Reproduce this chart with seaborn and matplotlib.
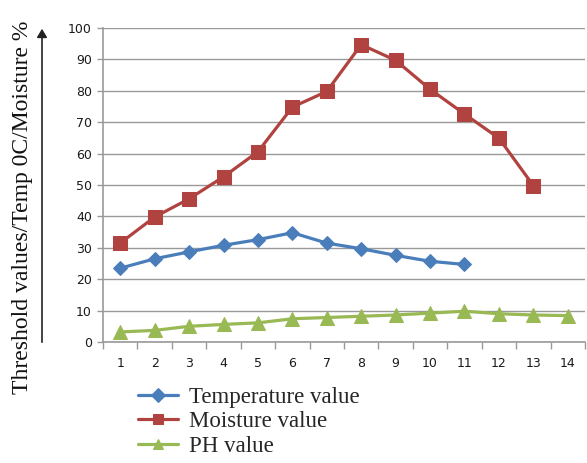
import matplotlib
matplotlib.use("Agg")
import matplotlib.pyplot as plt
import seaborn as sns
import pandas as pd
import numpy as np

days = list(range(1, 15))
temperature = [23.5, 26.5, 28.7, 30.8, 32.6, 34.8, 31.5, 29.7, 27.6, 25.7, 24.7]
moisture = [31.5, 39.8, 45.6, 52.6, 60.6, 74.8, 79.8, 94.7, 89.7, 80.5, 72.6, 64.9, 49.8]
ph = [3.2, 3.7, 5.0, 5.6, 6.1, 7.4, 7.8, 8.2, 8.6, 9.2, 9.8, 9.0, 8.6, 8.4]
series_names = ["Temperature value", "Moisture value", "PH value"]
colors = ["#4A7EBB", "#B0433F", "#98B954"]
y_label = "Threshold values/Temp 0C/Moisture %"

sns.set_theme(style="white")

frames = []
for name, vals in zip(series_names, [temperature, moisture, ph]):
    frames.append(pd.DataFrame({"day": days[:len(vals)], "value": vals, "series": name}))
df = pd.concat(frames, ignore_index=True)

fig = plt.figure(figsize=(5.87, 4.63), dpi=100)
ax = fig.add_axes([103/587, 1-342/463, (585-103)/587, (342-28)/463])

markers = {"Temperature value": "D", "Moisture value": "s", "PH value": "^"}
sizes = {"Temperature value": 7, "Moisture value": 9.5, "PH value": 9.5}
for name, col in zip(series_names, colors):
    sub = df[df.series == name]
    sns.lineplot(data=sub, x="day", y="value", ax=ax, color=col, linewidth=2.3,
                 marker=markers[name], markersize=sizes[name], markeredgecolor=col,
                 label=name, legend=False)

ax.set_xlim(0.5, 14.5)
ax.set_ylim(0, 100)
ax.set_yticks(np.arange(0, 101, 10))
ax.set_xticks(days)
ax.set_xticklabels([str(d) for d in days])
ax.set_xticks(np.arange(0.5, 14.6, 1), minor=True)
ax.tick_params(axis="x", which="major", length=0, pad=11, labelsize=9, labelcolor="#1a1a1a")
ax.tick_params(axis="x", which="minor", length=5, color="#999999", width=1, direction="out", bottom=True)
ax.tick_params(axis="y", which="major", length=4, color="#999999", width=1, direction="out", left=True,
               labelsize=9, labelcolor="#1a1a1a", pad=4)
ax.grid(axis="y", color="#999999", linewidth=1)
ax.set_axisbelow(True)
for s in ["top", "right"]:
    ax.spines[s].set_visible(False)
for s in ["left", "bottom"]:
    ax.spines[s].set_color("#999999")
    ax.spines[s].set_linewidth(1.2)
ax.set_xlabel("")
ax.set_ylabel("")

fig.text(23/587, 1-207/463, y_label, rotation=90, ha="center", va="center",
         fontsize=17, family="Liberation Serif", color="#111111")
fig.add_artist(matplotlib.patches.FancyArrowPatch(
    (42/587, 1-345/463), (42/587, 1-26/463), transform=fig.transFigure,
    arrowstyle="-|>,head_length=5,head_width=3", color="#222222", linewidth=1.2))

handles, labels = ax.get_legend_handles_labels()
leg = fig.legend(handles, labels, loc="upper left", bbox_to_anchor=(129/587, 1-378/463),
                 frameon=False, prop={"family": "Liberation Serif", "size": 16.5},
                 handlelength=1.75, labelspacing=0.14, handletextpad=0.45, borderaxespad=0)
for h in leg.legend_handles:
    h.set_markersize(7)

fig.savefig("out.png", dpi=100)
